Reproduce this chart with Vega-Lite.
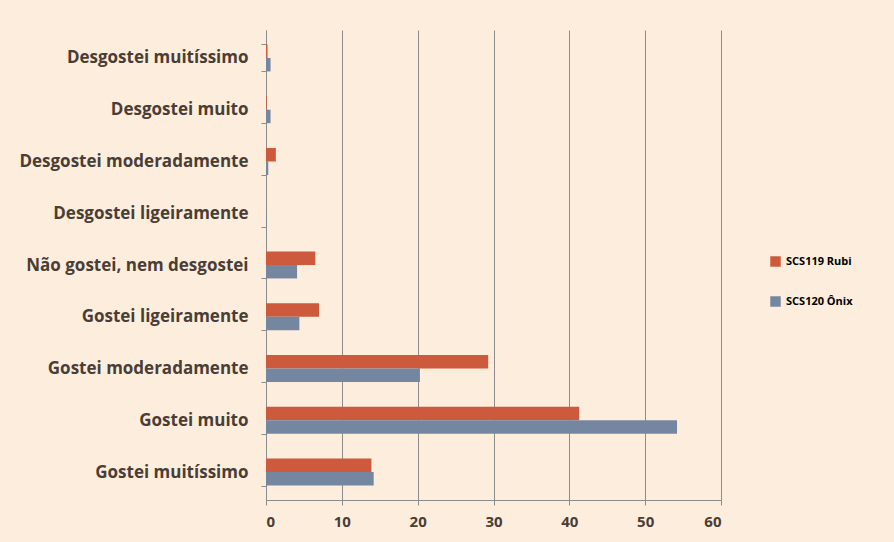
{
  "$schema": "https://vega.github.io/schema/vega-lite/v6.json",
  "width": 455,
  "height": 470,
  "autosize": {"type": "none"},
  "padding": {"left": 266, "top": 30, "right": 173, "bottom": 42},
  "background": "#fdeddd",
  "config": {"view": {"stroke": null}},
  "data": {"values": [
    {"cat": "Desgostei muitíssimo", "serie": "SCS119 Rubi", "v": 0.2},
    {"cat": "Desgostei muitíssimo", "serie": "SCS120 Ônix", "v": 0.6},
    {"cat": "Desgostei muito", "serie": "SCS119 Rubi", "v": 0.1},
    {"cat": "Desgostei muito", "serie": "SCS120 Ônix", "v": 0.6},
    {"cat": "Desgostei moderadamente", "serie": "SCS119 Rubi", "v": 1.3},
    {"cat": "Desgostei moderadamente", "serie": "SCS120 Ônix", "v": 0.3},
    {"cat": "Desgostei ligeiramente", "serie": "SCS119 Rubi", "v": 0},
    {"cat": "Desgostei ligeiramente", "serie": "SCS120 Ônix", "v": 0.1},
    {"cat": "Não gostei, nem desgostei", "serie": "SCS119 Rubi", "v": 6.5},
    {"cat": "Não gostei, nem desgostei", "serie": "SCS120 Ônix", "v": 4.1},
    {"cat": "Gostei ligeiramente", "serie": "SCS119 Rubi", "v": 7.0},
    {"cat": "Gostei ligeiramente", "serie": "SCS120 Ônix", "v": 4.4},
    {"cat": "Gostei moderadamente", "serie": "SCS119 Rubi", "v": 29.3},
    {"cat": "Gostei moderadamente", "serie": "SCS120 Ônix", "v": 20.3},
    {"cat": "Gostei muito", "serie": "SCS119 Rubi", "v": 41.3},
    {"cat": "Gostei muito", "serie": "SCS120 Ônix", "v": 54.2},
    {"cat": "Gostei muitíssimo", "serie": "SCS119 Rubi", "v": 13.9},
    {"cat": "Gostei muitíssimo", "serie": "SCS120 Ônix", "v": 14.2}
  ]},
  "mark": {"type": "bar"},
  "encoding": {
    "y": {
      "field": "cat", "type": "nominal",
      "sort": ["Desgostei muitíssimo", "Desgostei muito", "Desgostei moderadamente", "Desgostei ligeiramente", "Não gostei, nem desgostei", "Gostei ligeiramente", "Gostei moderadamente", "Gostei muito", "Gostei muitíssimo"],
      "scale": {"paddingInner": 0.48, "paddingOuter": 0.28},
      "axis": {
        "title": null,
        "labelFont": "Open Sans", "labelFontWeight": "bold", "labelFontSize": 17, "labelColor": "#4a3d35",
        "labelPadding": 13, "tickBand": "extent", "tickSize": 5, "tickColor": "#8c8c8c",
        "domainColor": "#8c8c8c", "labelLimit": 300
      }
    },
    "yOffset": {"field": "serie", "type": "nominal"},
    "x": {
      "field": "v", "type": "quantitative",
      "scale": {"domain": [0, 60], "nice": false},
      "axis": {
        "title": null, "values": [0, 10, 20, 30, 40, 50, 60],
        "labelFont": "Open Sans", "labelFontWeight": "bold", "labelFontSize": 15, "labelColor": "#4a3d35",
        "labelPadding": 9, "tickSize": 5, "tickColor": "#8c8c8c", "domainColor": "#8c8c8c",
        "grid": true, "gridColor": "#8c8c8c", "gridWidth": 1
      }
    },
    "color": {
      "field": "serie", "type": "nominal",
      "scale": {"domain": ["SCS119 Rubi", "SCS120 Ônix"], "range": ["#cd5a3c", "#7587a0"]},
      "legend": {
        "title": null, "orient": "none", "legendX": 504, "legendY": 226,
        "symbolType": "square", "symbolSize": 110, "symbolStrokeWidth": 0,
        "labelFont": "Open Sans", "labelFontWeight": "bold", "labelFontSize": 11, "labelColor": "#000000",
        "rowPadding": 28, "labelOffset": 5
      }
    }
  }
}
